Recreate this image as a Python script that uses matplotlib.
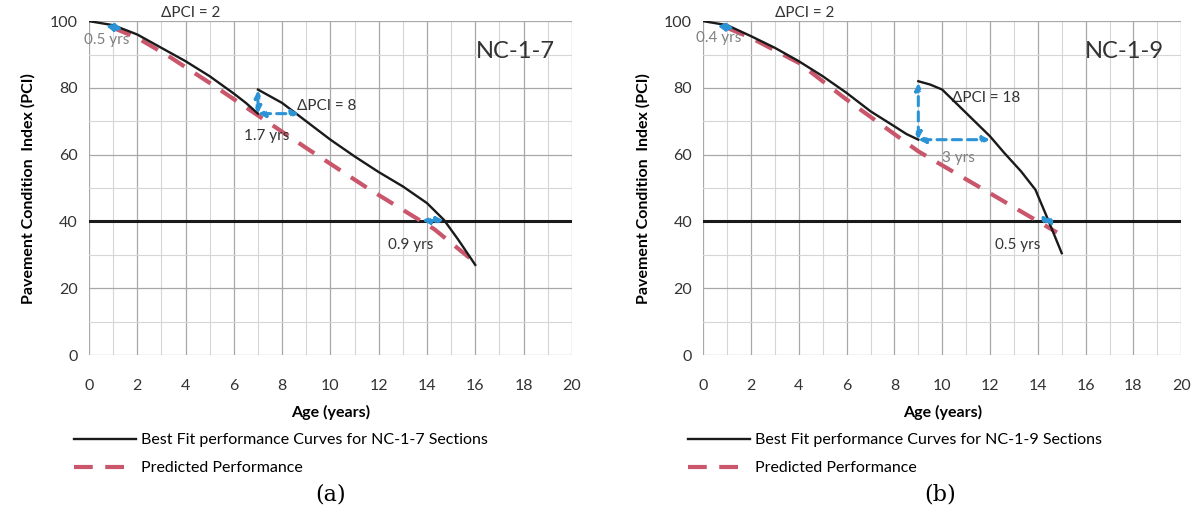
import matplotlib
matplotlib.use("Agg")
import matplotlib.pyplot as plt
import numpy as np

# ---- data ----
# (a) NC-1-7
a_fit1_x = [0, 1, 2, 3, 4, 5, 6, 6.5, 7.0]
a_fit1_y = [100, 98.8, 96, 92, 88, 83.5, 78.3, 75.5, 72.3]
a_fit2_x = [7.0, 8, 9, 10, 11, 12, 13, 14, 14.7, 15.3, 16]
a_fit2_y = [79.5, 75.5, 70, 64.5, 59.5, 54.8, 50.5, 45.5, 40.5, 34.5, 27]
a_pred_x = [1.0, 2, 3.3, 5, 7.4, 9, 11.6, 14.3, 16]
a_pred_y = [98, 95, 89.5, 81.5, 69.8, 62, 49.7, 37.7, 27.7]

# (b) NC-1-9
b_fit1_x = [0, 1, 2, 3, 4, 5, 6, 7, 8, 8.5, 9.0]
b_fit1_y = [100, 98.8, 95.5, 92, 88, 83.5, 78.5, 73, 68.5, 66.2, 64.5]
b_fit2_x = [9.0, 9.5, 10, 11, 12, 12.6, 13.3, 13.9, 14.4, 15]
b_fit2_y = [82, 81, 79.5, 72.5, 65.5, 60.5, 55, 49.5, 41, 30.5]
b_pred_x = [1.0, 2, 4, 6, 9, 11.7, 14.8]
b_pred_y = [98, 95, 87.5, 76.5, 61, 49.7, 36.7]

threshold = 40
x_ticks = np.arange(0, 21, 2)
y_ticks = np.arange(0, 101, 20)

black = "#1a1a1a"
red = "#c9566a"
blue = "#2b93d6"
grey_txt = "#808080"

plt.rcParams["font.family"] = ["Lato", "DejaVu Sans"]

fig = plt.figure(figsize=(11.98, 5.16), dpi=100)
ax_a = fig.add_axes([0.0743, 0.312, 0.403, 0.647])
ax_b = fig.add_axes([0.587, 0.312, 0.399, 0.647])


def base(ax):
    ax.set_xlim(0, 20)
    ax.set_ylim(0, 100)
    ax.set_xticks(x_ticks)
    ax.set_yticks(y_ticks)
    ax.set_xticks(np.arange(0, 21, 1), minor=True)
    ax.set_yticks(np.arange(0, 101, 10), minor=True)
    ax.grid(True, which="major", color="#a8a8a8", lw=0.9)
    ax.grid(True, which="minor", color="#d6d6d6", lw=0.8)
    ax.set_axisbelow(True)
    for s in ax.spines.values():
        s.set_visible(False)
    ax.tick_params(which="both", length=0, labelsize=11.5, colors="#333333", pad=8)
    ax.tick_params(axis="x", pad=17)
    ax.set_xlabel("Age (years)", fontsize=11.5, fontweight="bold", labelpad=9)
    ax.set_ylabel("Pavement Condition  Index (PCI)", fontsize=11.5, fontweight="bold", labelpad=10)
    ax.axhline(threshold, color=black, lw=2.2, zorder=2)


def arrow(ax, p0, p1):
    ax.annotate("", xy=p1, xytext=p0,
                arrowprops=dict(arrowstyle="<|-|>", color=blue, lw=2.2,
                                linestyle=(0, (3, 2)), mutation_scale=10,
                                shrinkA=0, shrinkB=0), zorder=5)


def panel(ax, f1x, f1y, f2x, f2y, px, py, name):
    base(ax)
    l1, = ax.plot(f1x, f1y, color=black, lw=1.7, zorder=4)
    ax.plot(f2x, f2y, color=black, lw=1.7, zorder=4)
    l2, = ax.plot(px, py, color=red, lw=3, dashes=(4.5, 3), zorder=3)
    ax.text(19.3, 91, name, fontsize=17, ha="right", va="center", color="#333333")
    ax.legend([l1, l2], ["Best Fit performance Curves for %s Sections" % name,
                         "Predicted Performance"],
              loc="upper left", bbox_to_anchor=(-0.045, -0.215), frameon=False,
              fontsize=11.5, handlelength=3.9, handletextpad=0.3, labelspacing=0.85,
              borderaxespad=0)


panel(ax_a, a_fit1_x, a_fit1_y, a_fit2_x, a_fit2_y, a_pred_x, a_pred_y, "NC-1-7")
panel(ax_b, b_fit1_x, b_fit1_y, b_fit2_x, b_fit2_y, b_pred_x, b_pred_y, "NC-1-9")

# annotations (a)
arrow(ax_a, (0.7, 98.6), (1.4, 97.6))
ax_a.text(3.0, 100.3, "\u0394PCI = 2", fontsize=11, va="bottom", color="#333333")
ax_a.text(-0.2, 94.5, "0.5 yrs", fontsize=11, va="center", color=grey_txt)
arrow(ax_a, (7.0, 72.3), (7.0, 79.3))
arrow(ax_a, (7.0, 72.3), (8.7, 72.3))
ax_a.text(8.6, 74.5, "\u0394PCI = 8", fontsize=11, va="center", color="#333333")
ax_a.text(6.4, 65.5, "1.7 yrs", fontsize=11, va="center", color="#333333")
arrow(ax_a, (13.8, 40.3), (14.7, 40.3))
ax_a.text(12.4, 33, "0.9 yrs", fontsize=11, va="center", color="#333333")

# annotations (b)
arrow(ax_b, (0.6, 98.6), (1.3, 97.8))
ax_b.text(3.0, 100.3, "\u0394PCI = 2", fontsize=11, va="bottom", color="#333333")
ax_b.text(-0.3, 95, "0.4 yrs", fontsize=11, va="center", color=grey_txt)
arrow(ax_b, (9.0, 64.5), (9.0, 81.5))
arrow(ax_b, (9.0, 64.5), (12.0, 64.5))
ax_b.text(10.4, 77, "\u0394PCI = 18", fontsize=11, va="center", color="#333333")
ax_b.text(10.0, 59, "3 yrs", fontsize=11, va="center", color=grey_txt)
arrow(ax_b, (14.2, 40.3), (14.6, 40.3))
ax_b.text(12.2, 33, "0.5 yrs", fontsize=11, va="center", color="#333333")

fig.text(0.276, 0.042, "(a)", fontsize=16, family="DejaVu Serif", ha="center", va="center")
fig.text(0.785, 0.042, "(b)", fontsize=16, family="DejaVu Serif", ha="center", va="center")

fig.savefig("out.png", dpi=100, facecolor="white")
